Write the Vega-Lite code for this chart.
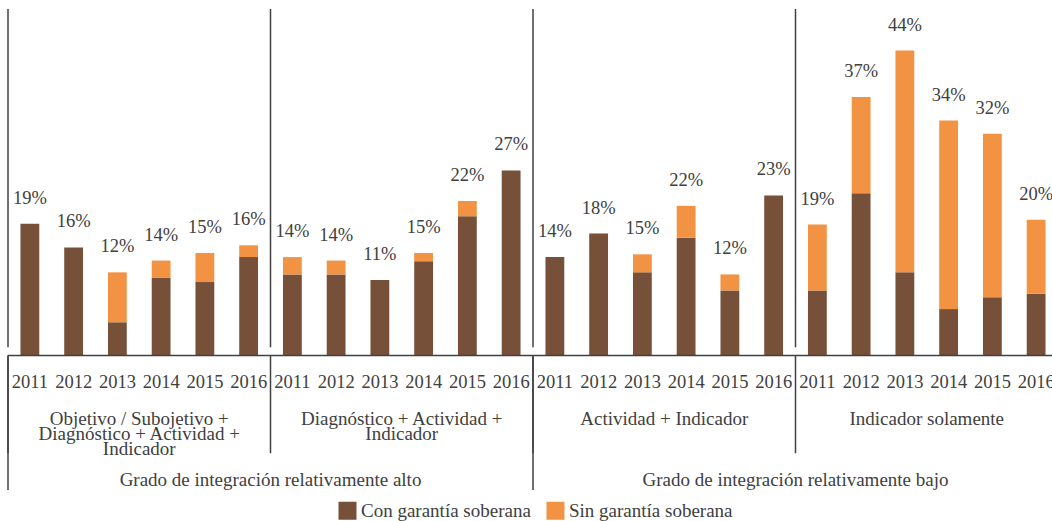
{
  "$schema": "https://vega.github.io/schema/vega-lite/v6.json",
  "width": 1044,
  "height": 499,
  "autosize": {"type": "none"},
  "padding": {"left": 8, "top": 9, "right": 0, "bottom": 13},
  "background": "white",
  "config": {"view": {"stroke": null}, "font": "Liberation Serif"},
  "datasets": {
    "bars": [
      {"g": "G1", "year": "2011", "serie": "Con garantía soberana", "v": 0.190},
      {"g": "G1", "year": "2012", "serie": "Con garantía soberana", "v": 0.156},
      {"g": "G1", "year": "2013", "serie": "Con garantía soberana", "v": 0.048},
      {"g": "G1", "year": "2013", "serie": "Sin garantía soberana", "v": 0.072},
      {"g": "G1", "year": "2014", "serie": "Con garantía soberana", "v": 0.112},
      {"g": "G1", "year": "2014", "serie": "Sin garantía soberana", "v": 0.025},
      {"g": "G1", "year": "2015", "serie": "Con garantía soberana", "v": 0.106},
      {"g": "G1", "year": "2015", "serie": "Sin garantía soberana", "v": 0.042},
      {"g": "G1", "year": "2016", "serie": "Con garantía soberana", "v": 0.142},
      {"g": "G1", "year": "2016", "serie": "Sin garantía soberana", "v": 0.017},
      {"g": "G2", "year": "2011", "serie": "Con garantía soberana", "v": 0.117},
      {"g": "G2", "year": "2011", "serie": "Sin garantía soberana", "v": 0.025},
      {"g": "G2", "year": "2012", "serie": "Con garantía soberana", "v": 0.117},
      {"g": "G2", "year": "2012", "serie": "Sin garantía soberana", "v": 0.020},
      {"g": "G2", "year": "2013", "serie": "Con garantía soberana", "v": 0.109},
      {"g": "G2", "year": "2014", "serie": "Con garantía soberana", "v": 0.136},
      {"g": "G2", "year": "2014", "serie": "Sin garantía soberana", "v": 0.012},
      {"g": "G2", "year": "2015", "serie": "Con garantía soberana", "v": 0.201},
      {"g": "G2", "year": "2015", "serie": "Sin garantía soberana", "v": 0.022},
      {"g": "G2", "year": "2016", "serie": "Con garantía soberana", "v": 0.267},
      {"g": "G3", "year": "2011", "serie": "Con garantía soberana", "v": 0.142},
      {"g": "G3", "year": "2012", "serie": "Con garantía soberana", "v": 0.176},
      {"g": "G3", "year": "2013", "serie": "Con garantía soberana", "v": 0.120},
      {"g": "G3", "year": "2013", "serie": "Sin garantía soberana", "v": 0.026},
      {"g": "G3", "year": "2014", "serie": "Con garantía soberana", "v": 0.170},
      {"g": "G3", "year": "2014", "serie": "Sin garantía soberana", "v": 0.046},
      {"g": "G3", "year": "2015", "serie": "Con garantía soberana", "v": 0.094},
      {"g": "G3", "year": "2015", "serie": "Sin garantía soberana", "v": 0.023},
      {"g": "G3", "year": "2016", "serie": "Con garantía soberana", "v": 0.231},
      {"g": "G4", "year": "2011", "serie": "Con garantía soberana", "v": 0.094},
      {"g": "G4", "year": "2011", "serie": "Sin garantía soberana", "v": 0.095},
      {"g": "G4", "year": "2012", "serie": "Con garantía soberana", "v": 0.234},
      {"g": "G4", "year": "2012", "serie": "Sin garantía soberana", "v": 0.139},
      {"g": "G4", "year": "2013", "serie": "Con garantía soberana", "v": 0.120},
      {"g": "G4", "year": "2013", "serie": "Sin garantía soberana", "v": 0.320},
      {"g": "G4", "year": "2014", "serie": "Con garantía soberana", "v": 0.067},
      {"g": "G4", "year": "2014", "serie": "Sin garantía soberana", "v": 0.272},
      {"g": "G4", "year": "2015", "serie": "Con garantía soberana", "v": 0.084},
      {"g": "G4", "year": "2015", "serie": "Sin garantía soberana", "v": 0.236},
      {"g": "G4", "year": "2016", "serie": "Con garantía soberana", "v": 0.089},
      {"g": "G4", "year": "2016", "serie": "Sin garantía soberana", "v": 0.107}
    ],
    "groups": [
      {"g": "G1", "label": "Objetivo / Subojetivo +\nDiagnóstico + Actividad +\nIndicador"},
      {"g": "G2", "label": "Diagnóstico + Actividad +\nIndicador"},
      {"g": "G3", "label": "Actividad + Indicador"},
      {"g": "G4", "label": "Indicador solamente"}
    ],
    "supers": [
      {"sup": "alto", "label": "Grado de integración relativamente alto"},
      {"sup": "bajo", "label": "Grado de integración relativamente bajo"}
    ]
  },
  "layer": [
    {
      "layer": [
        {
          "data": {"name": "bars"},
          "mark": {"type": "bar"},
          "encoding": {
            "x": {"field": "g", "type": "nominal", "axis": null, "scale": {"type": "band", "domain": ["G1", "G2", "G3", "G4"], "range": [0, 1050], "paddingInner": 0, "paddingOuter": 0}},
            "xOffset": {"field": "year", "type": "nominal", "scale": {"type": "band", "domain": ["2011", "2012", "2013", "2014", "2015", "2016"], "paddingInner": 0.57, "paddingOuter": 0.285}},
            "y": {"field": "v", "type": "quantitative", "stack": "zero", "axis": null, "scale": {"type": "linear", "domain": [-0.22, 0.5], "nice": false, "zero": false}},
            "color": {
              "field": "serie", "type": "nominal",
              "scale": {"domain": ["Con garantía soberana", "Sin garantía soberana"], "range": ["#775039", "#F29243"]},
              "legend": {"orient": "none", "legendX": 330, "legendY": 492, "direction": "horizontal", "title": null, "symbolType": "square", "symbolSize": 324, "symbolStrokeWidth": 0, "symbolOpacity": 1, "labelFontSize": 19, "labelFont": "Liberation Serif", "labelColor": "#404040", "labelOffset": 4, "labelLimit": 0, "columnPadding": 15, "padding": 0}
            },
            "order": {"field": "serie", "sort": "ascending"}
          }
        },
        {
          "data": {"name": "bars"},
          "mark": {"type": "text", "baseline": "alphabetic", "dy": -20, "fontSize": 18.5, "color": "#404040", "font": "Liberation Serif"},
          "encoding": {
            "x": {"field": "g", "type": "nominal", "axis": null, "scale": {"type": "band", "domain": ["G1", "G2", "G3", "G4"], "range": [0, 1050], "paddingInner": 0, "paddingOuter": 0}},
            "xOffset": {"field": "year", "type": "nominal", "scale": {"type": "band", "domain": ["2011", "2012", "2013", "2014", "2015", "2016"], "paddingInner": 0.57, "paddingOuter": 0.285}},
            "y": {"aggregate": "sum", "field": "v", "type": "quantitative", "axis": null, "scale": {"type": "linear", "domain": [-0.22, 0.5], "nice": false, "zero": false}},
            "text": {"aggregate": "sum", "field": "v", "type": "quantitative", "format": ".0%"}
          }
        },
        {
          "data": {"name": "bars"},
          "transform": [{"aggregate": [{"op": "count", "as": "n"}], "groupby": ["g", "year"]}],
          "mark": {"type": "text", "baseline": "alphabetic", "fontSize": 18.5, "color": "#404040", "font": "Liberation Serif"},
          "encoding": {
            "x": {"field": "g", "type": "nominal", "axis": null, "scale": {"type": "band", "domain": ["G1", "G2", "G3", "G4"], "range": [0, 1050], "paddingInner": 0, "paddingOuter": 0}},
            "xOffset": {"field": "year", "type": "nominal", "scale": {"type": "band", "domain": ["2011", "2012", "2013", "2014", "2015", "2016"], "paddingInner": 0.57, "paddingOuter": 0.285}},
            "y": {"datum": -0.047, "type": "quantitative", "scale": {"type": "linear", "domain": [-0.22, 0.5], "nice": false, "zero": false}},
            "text": {"field": "year", "type": "nominal"}
          }
        },
        {
          "data": {"name": "groups"},
          "mark": {"type": "text", "baseline": "alphabetic", "lineBreak": "\n", "lineHeight": 15, "fontSize": 19, "color": "#404040", "font": "Liberation Serif"},
          "encoding": {
            "x": {"field": "g", "type": "nominal", "axis": null, "scale": {"type": "band", "domain": ["G1", "G2", "G3", "G4"], "range": [0, 1050], "paddingInner": 0, "paddingOuter": 0}},
            "y": {"datum": -0.100, "type": "quantitative", "scale": {"type": "linear", "domain": [-0.22, 0.5], "nice": false, "zero": false}},
            "text": {"field": "label", "type": "nominal"}
          }
        },
        {
          "data": {"name": "groups"},
          "mark": {"type": "rule", "color": "#404040", "strokeWidth": 1.5},
          "encoding": {
            "x": {"field": "g", "type": "nominal", "bandPosition": 0, "axis": null, "scale": {"type": "band", "domain": ["G1", "G2", "G3", "G4"], "range": [0, 1050], "paddingInner": 0, "paddingOuter": 0}},
            "y": {"datum": 0.5, "type": "quantitative", "scale": {"type": "linear", "domain": [-0.22, 0.5], "nice": false, "zero": false}},
            "y2": {"datum": 0.012}
          }
        },
        {
          "data": {"name": "groups"},
          "mark": {"type": "rule", "color": "#404040", "strokeWidth": 1.5},
          "encoding": {
            "x": {"field": "g", "type": "nominal", "bandPosition": 0, "axis": null, "scale": {"type": "band", "domain": ["G1", "G2", "G3", "G4"], "range": [0, 1050], "paddingInner": 0, "paddingOuter": 0}},
            "y": {"datum": 0, "type": "quantitative", "scale": {"type": "linear", "domain": [-0.22, 0.5], "nice": false, "zero": false}},
            "y2": {"datum": -0.141}
          }
        },
        {
          "data": {"values": [{}]},
          "mark": {"type": "rule", "color": "#404040", "strokeWidth": 1.5},
          "encoding": {
            "y": {"datum": 0, "type": "quantitative", "scale": {"type": "linear", "domain": [-0.22, 0.5], "nice": false, "zero": false}}
          }
        }
      ]
    },
    {
      "layer": [
        {
          "data": {"name": "supers"},
          "mark": {"type": "text", "baseline": "alphabetic", "fontSize": 19, "color": "#404040", "font": "Liberation Serif"},
          "encoding": {
            "x": {"field": "sup", "type": "nominal", "axis": null, "scale": {"type": "band", "domain": ["alto", "bajo"], "range": [0, 1050], "paddingInner": 0, "paddingOuter": 0}},
            "y": {"datum": -0.188, "type": "quantitative", "scale": {"type": "linear", "domain": [-0.22, 0.5], "nice": false, "zero": false}},
            "text": {"field": "label", "type": "nominal"}
          }
        },
        {
          "data": {"name": "supers"},
          "mark": {"type": "rule", "color": "#404040", "strokeWidth": 1.5},
          "encoding": {
            "x": {"field": "sup", "type": "nominal", "bandPosition": 0, "axis": null, "scale": {"type": "band", "domain": ["alto", "bajo"], "range": [0, 1050], "paddingInner": 0, "paddingOuter": 0}},
            "y": {"datum": 0, "type": "quantitative", "scale": {"type": "linear", "domain": [-0.22, 0.5], "nice": false, "zero": false}},
            "y2": {"datum": -0.194}
          }
        }
      ]
    }
  ],
  "resolve": {"scale": {"x": "independent"}}
}
